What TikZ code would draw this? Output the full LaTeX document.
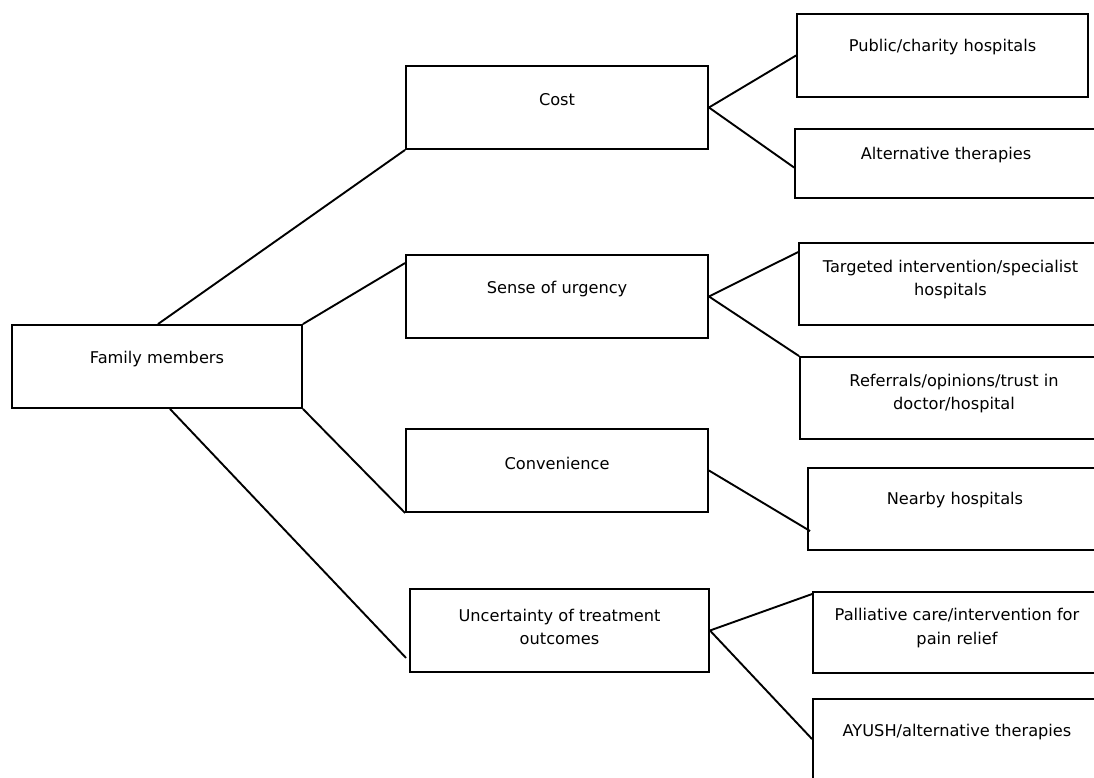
\documentclass[tikz,border=0pt]{standalone}
\usepackage{fontspec}
\setmainfont{DejaVu Sans}
\begin{document}
\begin{tikzpicture}[x=1pt,y=-1pt,
  box/.style={draw=black,line width=1.9pt,inner sep=0pt,fill=white},
  lbl/.style={align=center,font=\fontsize{16.2}{23.5}\selectfont,inner sep=0pt,text=black},
  link/.style={draw=black,line width=1.9pt}]
\clip (0,0) rectangle (1094,778);
\fill[white] (0,0) rectangle (1094,778);
% boxes
\node[box,minimum width=290pt,minimum height=83pt] (fam) at (157,366.5) {};
\node[box,minimum width=302pt,minimum height=83pt] (cost) at (557,107.5) {};
\node[box,minimum width=302pt,minimum height=83pt] (sense) at (557,296.5) {};
\node[box,minimum width=302pt,minimum height=83pt] (conv) at (557,470.5) {};
\node[box,minimum width=299pt,minimum height=83pt] (unc) at (559.5,630.5) {};
\node[box,minimum width=291pt,minimum height=83pt] (pub) at (942.5,55.5) {};
\node[box,minimum width=302pt,minimum height=69pt] (alt) at (946,163.5) {};
\node[box,minimum width=303pt,minimum height=82pt] (tgt) at (950.5,284) {};
\node[box,minimum width=308pt,minimum height=82pt] (ref) at (954,398) {};
\node[box,minimum width=294pt,minimum height=82pt] (near) at (955,509) {};
\node[box,minimum width=288pt,minimum height=81pt] (pal) at (957,632.5) {};
\node[box,minimum width=288pt,minimum height=91pt] (ayu) at (957,744.5) {};
% labels
\node[lbl] (famT) at (157,359) {Family members};
\node[lbl] (costT) at (557,100) {Cost};
\node[lbl] (senseT) at (557,289) {Sense of urgency};
\node[lbl] (convT) at (557,463) {Convenience};
\node[lbl] (uncT) at (559.5,627) {Uncertainty of treatment\\outcomes};
\node[lbl] (pubT) at (942.5,47) {Public/charity hospitals};
\node[lbl] (altT) at (946,155) {Alternative therapies};
\node[lbl] (tgtT) at (950.5,279.5) {Targeted intervention/specialist\\hospitals};
\node[lbl] (refT) at (954,393.5) {Referrals/opinions/trust in\\doctor/hospital};
\node[lbl] (nearT) at (955,500) {Nearby hospitals};
\node[lbl] (palT) at (957,628) {Palliative care/intervention for\\pain relief};
\node[lbl] (ayuT) at (957,732) {AYUSH/alternative therapies};
% connectors
\draw[link] ([xshift=1pt]fam.north) -- (cost.south west);
\draw[link] (fam.north east) -- ([yshift=-9pt]sense.north west);
\draw[link] (fam.south east) -- (conv.south west);
\draw[link] ([xshift=13pt]fam.south) -- ([xshift=-3pt,yshift=15pt]unc.south west);
\draw[link] (cost.east) -- (pub.west);
\draw[link] (cost.east) -- ([yshift=-4pt]alt.west);
\draw[link] (sense.east) -- ([yshift=-10pt]tgt.north west);
\draw[link] (sense.east) -- (ref.north west);
\draw[link] (conv.east) -- ([xshift=3pt,yshift=-22pt]near.west);
\draw[link] (unc.east) -- ([yshift=-3pt]pal.north west);
\draw[link] (unc.east) -- ([yshift=-41pt]ayu.north west);
\end{tikzpicture}
\end{document}
